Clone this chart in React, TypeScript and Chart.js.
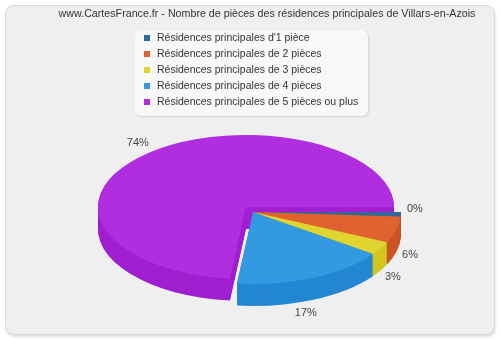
import React, { useEffect, useRef } from "react";
import { Chart, registerables } from "chart.js";

Chart.register(...registerables);

const TITLE =
  "www.CartesFrance.fr - Nombre de pièces des résidences principales de Villars-en-Azois";

const categories = [
  "Résidences principales d'1 pièce",
  "Résidences principales de 2 pièces",
  "Résidences principales de 3 pièces",
  "Résidences principales de 4 pièces",
  "Résidences principales de 5 pièces ou plus",
];
const shares = [1, 6, 3, 17, 74];
const shareLabels = ["0%", "6%", "3%", "17%", "74%"];
const topColors = ["#336699", "#e0632f", "#e0d530", "#3399e0", "#b02de0"];
const sideColors = ["#2a5a8a", "#cc5424", "#d2c61e", "#2387d2", "#a01fd0"];

const FONT = '"Liberation Sans", Arial, sans-serif';
const GEO = { cx: 253, cy: 212, rx: 148, ry: 72, depth: 22 };
const EXPLODE: Record<number, [number, number]> = { 4: [-7, -5] };

function roundRect(ctx: CanvasRenderingContext2D, x: number, y: number, w: number, h: number, r: number) {
  ctx.beginPath();
  ctx.moveTo(x + r, y);
  ctx.lineTo(x + w - r, y);
  ctx.arcTo(x + w, y, x + w, y + r, r);
  ctx.lineTo(x + w, y + h - r);
  ctx.arcTo(x + w, y + h, x + w - r, y + h, r);
  ctx.lineTo(x + r, y + h);
  ctx.arcTo(x, y + h, x, y + h - r, r);
  ctx.lineTo(x, y + r);
  ctx.arcTo(x, y, x + r, y, r);
  ctx.closePath();
}

function applyT(ctx: CanvasRenderingContext2D, base: DOMMatrix, el: any, i: number, dy: number) {
  const R = el.outerRadius;
  const sx = GEO.rx / R;
  const sy = GEO.ry / R;
  const [ex, ey] = EXPLODE[i] || [0, 0];
  ctx.setTransform(base);
  ctx.transform(sx, 0, 0, sy, GEO.cx + ex - sx * el.x, GEO.cy + ey + dy - sy * el.y);
}

function drawWithColor(ctx: CanvasRenderingContext2D, el: any, color: string) {
  const saved = el.options;
  el.options = Object.assign({}, saved, { backgroundColor: color, borderWidth: 0 });
  el.draw(ctx);
  el.options = saved;
}

const pie3d = {
  id: "pie3d",
  beforeDraw(chart: any) {
    const ctx: CanvasRenderingContext2D = chart.ctx;
    ctx.save();
    ctx.fillStyle = "#ffffff";
    ctx.fillRect(0, 0, chart.width, chart.height);
    // panel
    ctx.save();
    ctx.shadowColor = "rgba(0,0,0,0.15)";
    ctx.shadowBlur = 3;
    ctx.shadowOffsetX = 1;
    ctx.shadowOffsetY = 2;
    roundRect(ctx, 5.5, 5.5, 489, 329, 8);
    ctx.fillStyle = "#efefef";
    ctx.fill();
    ctx.restore();
    roundRect(ctx, 5.5, 5.5, 489, 329, 8);
    ctx.strokeStyle = "#d9d9d9";
    ctx.lineWidth = 1;
    ctx.stroke();
    // title
    ctx.fillStyle = "#333";
    ctx.font = `10.7px ${FONT}`;
    ctx.textAlign = "center";
    ctx.textBaseline = "middle";
    ctx.fillText(TITLE, 267, 14);
    // legend
    ctx.font = `10.5px ${FONT}`;
    ctx.save();
    ctx.shadowColor = "rgba(0,0,0,0.12)";
    ctx.shadowBlur = 2;
    ctx.shadowOffsetX = 1;
    ctx.shadowOffsetY = 1;
    roundRect(ctx, 135, 30, 233, 86, 6);
    ctx.fillStyle = "#f8f8f8";
    ctx.fill();
    ctx.restore();
    const labels: string[] = chart.data.labels;
    const colors: string[] = chart.data.datasets[0].backgroundColor;
    ctx.textAlign = "left";
    labels.forEach((lab, i) => {
      const yc = 38 + i * 16;
      ctx.fillStyle = colors[i];
      ctx.fillRect(144, yc - 3, 6, 6);
      ctx.fillStyle = "#333";
      ctx.fillText(lab, 157, yc);
    });
    ctx.restore();
  },
  beforeDatasetsDraw(chart: any) {
    const ctx: CanvasRenderingContext2D = chart.ctx;
    const meta = chart.getDatasetMeta(0);
    const base = ctx.getTransform();
    ctx.save();
    for (let d = GEO.depth; d >= 1; d--) {
      meta.data.forEach((el: any, i: number) => {
        applyT(ctx, base, el, i, d);
        drawWithColor(ctx, el, sideColors[i]);
      });
    }
    meta.data.forEach((el: any, i: number) => {
      applyT(ctx, base, el, i, 0);
      el.draw(ctx);
    });
    ctx.restore();
    return false;
  },
  afterDraw(chart: any) {
    const ctx: CanvasRenderingContext2D = chart.ctx;
    const meta = chart.getDatasetMeta(0);
    ctx.save();
    ctx.font = `11px ${FONT}`;
    ctx.fillStyle = "#444";
    ctx.textAlign = "center";
    meta.data.forEach((el: any, i: number) => {
      const mid = (el.startAngle + el.endAngle) / 2;
      const c = Math.cos(mid);
      const s = Math.sin(mid);
      const [ex, ey] = EXPLODE[i] || [0, 0];
      const x = GEO.cx + ex + c * (GEO.rx + 14) * (s > 0.8 ? 0.8 : 1);
      const y = GEO.cy + ey + s * (GEO.ry + 14) + (s > 0.1 ? GEO.depth : 0);
      ctx.textBaseline = Math.abs(s) <= 0.1 ? "bottom" : "middle";
      ctx.fillText(shareLabels[i], x, y);
    });
    ctx.restore();
  },
};

export default function App() {
  const ref = useRef<HTMLCanvasElement>(null);
  useEffect(() => {
    const chart = new Chart(ref.current as HTMLCanvasElement, {
      type: "pie",
      data: {
        labels: categories,
        datasets: [
          {
            data: shares,
            backgroundColor: topColors,
            borderWidth: 0,
          },
        ],
      },
      options: {
        responsive: false,
        animation: false,
        rotation: 90,
        events: [],
        plugins: {
          legend: { display: false },
          title: { display: false },
          tooltip: { enabled: false },
        },
      },
      plugins: [pie3d as any],
    });
    return () => chart.destroy();
  }, []);
  return (
    <div style={{ position: "fixed", left: 0, top: 0, width: 500, height: 340 }}>
      <canvas ref={ref} width={500} height={340} style={{ display: "block" }} />
    </div>
  );
}
